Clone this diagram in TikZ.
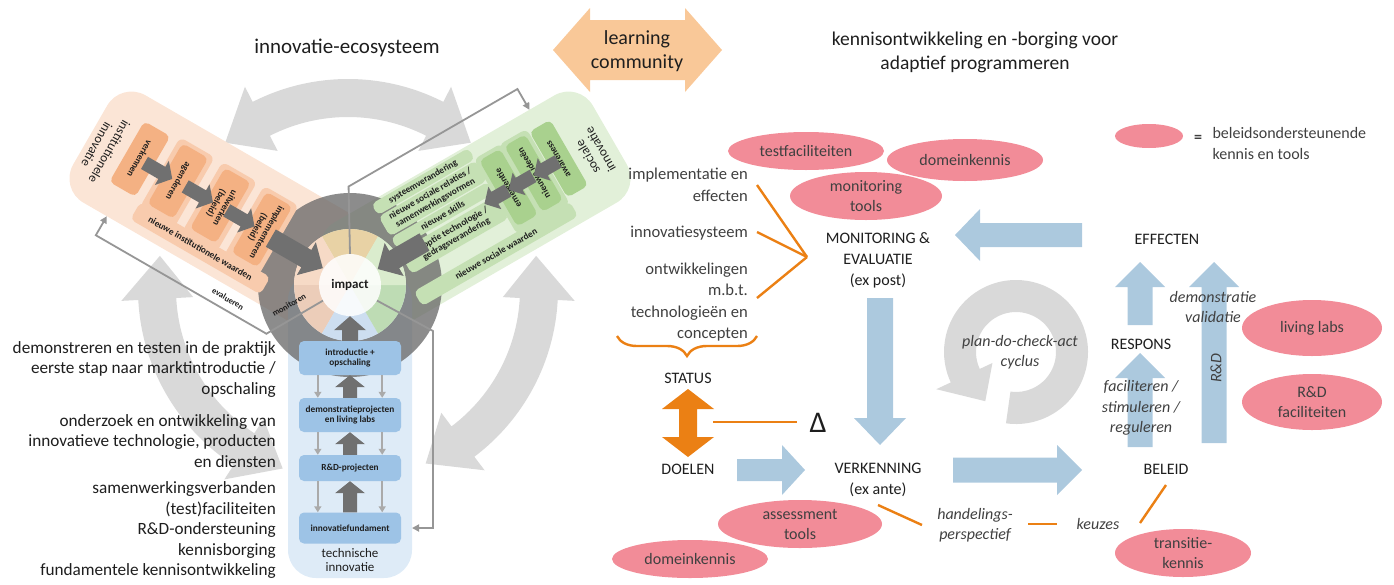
\documentclass[tikz,border=0pt]{standalone}
\usepackage{fontspec}
\setmainfont{Carlito}
\usetikzlibrary{positioning,calc,arrows.meta,shapes.geometric,decorations.pathreplacing}

\definecolor{orPanel}{RGB}{251,229,214}
\definecolor{orBox}{RGB}{244,177,131}
\definecolor{orLight}{RGB}{248,203,173}
\definecolor{grPanel}{RGB}{226,240,217}
\definecolor{grBox}{RGB}{169,209,142}
\definecolor{grLight}{RGB}{197,224,180}
\definecolor{blPanel}{RGB}{222,235,247}
\definecolor{blBox}{RGB}{157,195,230}
\definecolor{ringGray}{RGB}{217,217,217}
\definecolor{darkArr}{RGB}{112,112,112}
\definecolor{fbGray}{RGB}{150,150,150}
\definecolor{thinGray}{RGB}{170,170,170}
\definecolor{innTan}{RGB}{232,210,165}
\definecolor{innPeach}{RGB}{246,218,198}
\definecolor{innPeachB}{RGB}{236,205,185}
\definecolor{innBlue}{RGB}{205,222,240}
\definecolor{innGreen}{RGB}{218,236,205}
\definecolor{innGreenB}{RGB}{190,220,180}
\definecolor{pinkE}{RGB}{242,140,152}
\definecolor{skyArr}{RGB}{172,201,222}
\definecolor{orLine}{RGB}{235,128,20}
\definecolor{peachArr}{RGB}{249,200,152}
\definecolor{txtGray}{RGB}{64,64,64}
\definecolor{txtDark}{RGB}{30,30,30}

\newcommand{\fs}[2]{\fontsize{#1}{#2}\selectfont}

% block arrow: style, from, to, half shaft, half head, head length
\newcommand{\fatarrow}[6]{%
  \coordinate (fah) at ($(#3)!#6!(#2)$);
  \fill[#1] ($(#2)!#4!90:(#3)$) -- ($(fah)!#4!-90:(#2)$) -- ($(fah)!#5!-90:(#2)$) -- (#3)
    -- ($(fah)!#5!90:(#2)$) -- ($(fah)!#4!90:(#2)$) -- ($(#2)!#4!-90:(#3)$) -- cycle;}

% double headed arc of the big cycle, angles from (rc)
\newcommand{\ringarrow}[2]{%
  \fill[ringGray] ($(rc)+(#1:191pt)$) -- ($(rc)+(#1+13:227pt)$) -- ($(rc)+(#1+13:210pt)$)
    arc[start angle=#1+13, end angle=#2-13, radius=210pt]
    -- ($(rc)+(#2-13:227pt)$) -- ($(rc)+(#2:191pt)$) -- ($(rc)+(#2-13:155pt)$) -- ($(rc)+(#2-13:172pt)$)
    arc[start angle=#2-13, end angle=#1+13, radius=172pt]
    -- ($(rc)+(#1+13:155pt)$) -- cycle;}

\begin{document}
\begin{tikzpicture}[x=1pt, y=-1pt,
    ttl/.style={font=\fs{21}{24}, text=txtDark, align=center},
    side/.style={font=\fs{17.2}{20.5}, text=txtDark, align=right, anchor=east, inner sep=0pt},
    lst/.style={font=\fs{16.6}{21.5}, text=txtGray, align=right, anchor=east, inner sep=0pt},
    caps/.style={font=\fs{16}{21}, text=txtDark, align=center},
    itl/.style={font=\fs{16}{20.5}\itshape, text=txtGray, align=center},
    ell/.style={ellipse, fill=pinkE, inner sep=0pt, font=\fs{16}{20}, text=txtGray, align=center},
    orl/.style={draw=orLine, line width=2.4pt},
    fb/.style={draw=fbGray, line width=1.8pt, -{Triangle[length=7pt,width=7pt]}},
    thinarr/.style={draw=thinGray, line width=2.2pt, -{Triangle[length=6pt,width=7pt]}},
    panel/.style={rounded corners=28pt},
    sbox/.style={rounded corners=5pt, inner sep=1pt, font=\fs{9.3}{10.3}\bfseries, text=txtDark, align=center},
    ptxt/.style={font=\fs{13}{14.5}, text=txtDark, align=center}]
\useasboundingbox (0,0) rectangle (1394,584);

%% innovatie-ecosysteem
\node[ttl] (ltitle) at (347,48) {innovatie-ecosysteem};

\coordinate (rc) at (348,289);
\ringarrow{50}{130}
\ringarrow{-66}{10}
\ringarrow{170}{250}

\coordinate (ctr) at (350,285);
\begin{scope}[shift={(ctr)}, rotate=-30]
  \fill[orPanel, panel] (-300,-62) rectangle (10,62);
\end{scope}
\begin{scope}[shift={(ctr)}, rotate=30]
  \fill[grPanel, panel] (-10,-62) rectangle (300,62);
\end{scope}
\fill[blPanel, panel] (288,272) rectangle (412,578);

% donut
\fill[black!60, opacity=.75, even odd rule] (ctr) circle (92) (ctr) circle (56);
\foreach \a/\b/\c in {60/120/innTan,120/180/innPeach,180/240/innPeachB,240/300/innBlue,300/360/innGreenB,0/60/innGreen}
  \fill[\c] (ctr) -- ++(\a:56pt) arc[start angle=\a, end angle=\b, radius=56pt] -- cycle;

% institutionele innovatie
\begin{scope}[shift={(ctr)}, rotate=-30, transform shape]
  \node[ptxt, rotate=-90] (o-title) at (-282,5) {institutionele\\innovatie};
  \foreach \x in {-201,-152,-104}
    \fill[orLight, rounded corners=6pt] (\x-20,-43) rectangle (\x+20,38);
  \foreach \n/\x/\t in {o-verk/-245/verkennen, o-agen/-201/agenderen, o-uitw/-152/{uitwerken\\(beleid)}, o-impl/-104/{implementeren\\(beleid)}}
    \node[sbox, fill=orBox, rotate=-90, minimum width=70pt, minimum height=30pt] (\n) at (\x,-4) {\t};
  \node[sbox, fill=orLight, minimum width=150pt, minimum height=20pt] (o-val) at (-148,43) {nieuwe institutionele waarden};
  \fatarrow{darkArr}{-239,-3}{-207,-3}{7pt}{14pt}{12pt}
  \fatarrow{darkArr}{-192,-3}{-160,-3}{7pt}{14pt}{12pt}
  \fatarrow{darkArr}{-144,-3}{-112,-3}{7pt}{14pt}{12pt}
\end{scope}

% sociale innovatie
\begin{scope}[shift={(ctr)}, rotate=30, transform shape]
  \node[ptxt, rotate=90] (g-title) at (277,8) {sociale\\innovatie};
  \foreach \x in {215,186}
    \fill[grLight, rounded corners=6pt] (\x-16,-47) rectangle (\x+16,40);
  \foreach \n/\x/\t in {g-aw/244/awareness, g-id/215/nieuwe ideeën, g-em/186/emergentie}
    \node[sbox, fill=grBox, rotate=90, minimum width=76pt, minimum height=24pt] (\n) at (\x,-5) {\t};
  \node[sbox, fill=grLight, minimum width=112pt, minimum height=13pt] (g-sys) at (115,-53) {systeemverandering};
  \node[sbox, fill=grLight, minimum width=112pt, minimum height=23pt] (g-rel) at (115,-33.5) {nieuwe sociale relaties /\\samenwerkingsvormen};
  \node[sbox, fill=grLight, minimum width=112pt, minimum height=13pt] (g-sk) at (115,-14) {nieuwe skills};
  \node[sbox, fill=grLight, minimum width=112pt, minimum height=26pt] (g-ad) at (115,8.5) {adoptie technologie /\\gedragsverandering};
  \node[sbox, fill=grLight, minimum width=180pt, minimum height=17pt] (g-val) at (142,46) {nieuwe sociale waarden};
  \fatarrow{darkArr}{242,-3}{214,-3}{7pt}{13pt}{12pt}
  \fatarrow{darkArr}{213,-3}{185,-3}{7pt}{13pt}{12pt}
  \fatarrow{darkArr}{184,-3}{157,-3}{7pt}{13pt}{12pt}
\end{scope}

% technische innovatie
\foreach \n/\y/\h/\t in {b-intro/358/34/{introductie +\\opschaling}, b-demo/415/34/{demonstratieprojecten\\en living labs}, b-rd/468/26/{R\&D-projecten}, b-fund/528/31/innovatiefundament}
  \node[sbox, fill=blBox, minimum width=102pt, minimum height=\h pt] (\n) at (350,\y) {\t};
\node[ptxt] (b-title) at (350,560) {technische\\innovatie};
\foreach \a/\b in {b-intro/b-demo, b-demo/b-rd, b-rd/b-fund} {
  \draw[thinarr] ($(\a.south west)+(19,0)$) -- ($(\b.north west)+(19,0)$);
  \draw[thinarr] ($(\a.south east)+(-19,0)$) -- ($(\b.north east)+(-19,0)$);
  \fatarrow{darkArr}{\b.north}{\a.south}{7pt}{15pt}{12pt}
}

% impact and the loops back
\node[circle, minimum size=62pt, inner sep=0pt, fill=white, fill opacity=.85, text opacity=1,
      font=\fs{13}{14}\bfseries, text=txtDark] (imp) at (ctr) {impact};
\begin{scope}[shift={(ctr)}, rotate=-30]
  \coordinate (o-in) at (-245,62);
  \draw[fb] (imp.210) -- (-48,84) -- (-245,84) -- (o-in);
  \fatarrow{darkArr}{-92,-1}{-32,-1}{10pt}{19pt}{19pt}
\end{scope}
\begin{scope}[shift={(ctr)}, rotate=30]
  \coordinate (g-in) at (243,-62);
  \draw[fb] (imp.90) -- (48,-86) -- (243,-86) -- (g-in);
  \fatarrow{darkArr}{86,0}{32,0}{10pt}{19pt}{19pt}
\end{scope}
\coordinate (b-in) at (412,528);
\draw[fb] (imp.-30) -- (433,331) -- (433,528) -- (b-in);
\fatarrow{darkArr}{b-intro.north}{imp.south}{8pt}{16pt}{14pt}
\node[font=\fs{8.5}{9}\bfseries, text=txtDark, rotate=-30] (l-eval) at (228,299) {evalueren};
\node[font=\fs{8.5}{9}\bfseries, text=txtDark, rotate=30] (l-mon) at (289,305) {monitoren};

% text beside the technical column
\node[side] (t-demo) at (276,369) {demonstreren en testen in de praktijk\\eerste stap naar marktintroductie /\\opschaling};
\node[side] (t-rd) at (276,441) {onderzoek en ontwikkeling van\\innovatieve technologie, producten\\en diensten};
\node[side] (t-fund) at (276,530) {samenwerkingsverbanden\\(test)faciliteiten\\R\&D-ondersteuning\\kennisborging\\fundamentele kennisontwikkeling};

%% learning community
\coordinate (lc) at (637,50);
\fatarrow{peachArr}{lc}{553,50}{30pt}{42pt}{37pt}
\fatarrow{peachArr}{lc}{722,50}{30pt}{42pt}{37pt}
\node[font=\fs{20}{24}, text=txtDark, align=center] (lcom) at (637,51) {learning\\community};

%% adaptief programmeren
\node[ttl, font=\fs{19.5}{24}] (rtitle) at (975,52) {kennisontwikkeling en -borging voor\\adaptief programmeren};

% plan-do-check-act
\coordinate (pc) at (1016,352);
\fill[ringGray] ($(pc)+(-98:40pt)$) -- ($(pc)+(-98:72pt)$) arc[start angle=-98, end angle=205, radius=72pt]
  -- ($(pc)+(205:88pt)$) -- ($(pc)+(238:58pt)$) -- ($(pc)+(205:26pt)$) -- ($(pc)+(205:40pt)$)
  arc[start angle=205, end angle=-98, radius=40pt] -- cycle;

% flow arrows
\fatarrow{skyArr}{1082,235}{955,235}{12pt}{26pt}{25pt}
\fatarrow{skyArr}{880,298}{880,445}{13pt}{26pt}{27pt}
\fatarrow{skyArr}{737,470}{805,470}{11pt}{25pt}{23pt}
\fatarrow{skyArr}{953,470}{1082,470}{12.5pt}{25pt}{25pt}
\fatarrow{skyArr}{1140,447}{1140,353}{12.5pt}{25pt}{25pt}
\fatarrow{skyArr}{1140,325}{1140,262}{12.5pt}{25pt}{25pt}
\fatarrow{skyArr}{1214,443}{1214,262}{12.5pt}{25pt}{25pt}

% knowledge ellipses
\node[ell, minimum width=156pt, minimum height=38pt] (e-test) at (806,151) {testfaciliteiten};
\node[ell, minimum width=156pt, minimum height=42pt] (e-dom1) at (965,160) {domeinkennis};
\node[ell, minimum width=152pt, minimum height=48pt] (e-mon) at (866,196) {monitoring\\tools};
\node[ell, minimum width=68pt, minimum height=24pt] (e-leg) at (1149,136) {};
\node[font=\fs{16}{20}\bfseries, text=txtGray] (eq) at (1198,139) {=};
\node[font=\fs{16}{21}, text=txtGray, align=left, anchor=west] (leg) at (1209,144) {beleidsondersteunende\\kennis en tools};
\node[ell, minimum width=140pt, minimum height=56pt] (e-liv) at (1312,328) {living labs};
\node[ell, minimum width=140pt, minimum height=56pt] (e-rdf) at (1312,402) {R\&D\\faciliteiten};
\node[ell, minimum width=136pt, minimum height=48pt] (e-tr) at (1183,553) {transitie-\\kennis};
\node[ell, minimum width=164pt, minimum height=48pt] (e-ass) at (800,524) {assessment\\tools};
\node[ell, minimum width=156pt, minimum height=38pt] (e-dom2) at (690,559) {domeinkennis};

% stages
\node[caps] (mon) at (878,260) {MONITORING \&\\EVALUATIE\\(ex post)};
\node[caps] (eff) at (1167,239) {EFFECTEN};
\node[caps] (resp) at (1141,344) {RESPONS};
\node[caps] (bel) at (1166,469) {BELEID};
\node[caps] (verk) at (878,480) {VERKENNING\\(ex ante)};
\node[caps] (status) at (688,378) {STATUS};
\node[caps] (doel) at (688,469) {DOELEN};
\node[font=\fs{30}{30}, text=txtDark] (delta) at (818,423) {Δ};

\node[lst] (impl) at (748,185) {implementatie en\\effecten};
\node[lst] (innsys) at (748,233) {innovatiesysteem};
\node[lst] (ontw) at (748,302) {ontwikkelingen\\m.b.t.\\technologieën en\\concepten};

\node[itl] (pdca) at (1020,352) {plan-do-check-act\\cyclus};
\node[itl] (demo) at (1213,307) {demonstratie\\validatie};
\node[itl] (fac) at (1141,408) {faciliteren /\\stimuleren /\\reguleren};
\node[itl, rotate=90] (rdlab) at (1216,368) {R\&D};
\node[itl] (hand) at (975,525) {handelings-\\perspectief};
\node[itl] (keuz) at (1098,524) {keuzes};

% orange links
\coordinate (conv) at (807,257);
\coordinate (o-imp) at (757,185);
\coordinate (o-inn) at (757,232);
\coordinate (o-ont) at (757,298);
\draw[orl] (o-imp) -- (conv);
\draw[orl] (o-inn) -- (conv);
\draw[orl] (o-ont) -- (conv);
\coordinate (br-l) at (617,336);
\coordinate (br-r) at (757,336);
\draw[orl, decorate, decoration={brace, mirror, amplitude=20pt}] (br-l) -- (br-r);
\coordinate (sd) at (688,423);
\fatarrow{orLine}{sd}{688,389}{9pt}{26pt}{20pt}
\fatarrow{orLine}{sd}{688,457}{9pt}{26pt}{20pt}
\coordinate (sd-r) at (713,422);
\coordinate (dl) at (797,422);
\draw[orl] (sd-r) -- (dl);
\coordinate (vh1) at (878,505);
\coordinate (vh2) at (922,525);
\draw[orl] (vh1) -- (vh2);
\coordinate (hk1) at (1028,524);
\coordinate (hk2) at (1057,524);
\draw[orl] (hk1) -- (hk2);
\coordinate (kb1) at (1140,523);
\coordinate (kb2) at (1166,485);
\draw[orl] (kb1) -- (kb2);
\end{tikzpicture}
\end{document}
